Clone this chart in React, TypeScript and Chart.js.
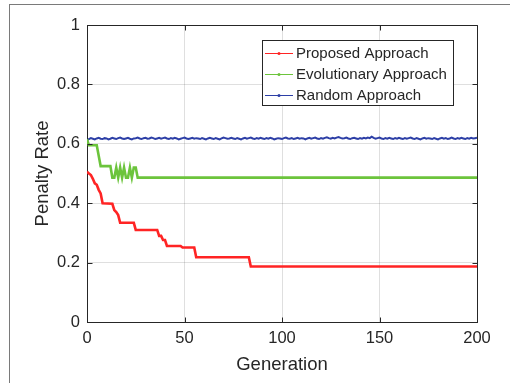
import React, { useEffect, useRef } from "react";
import { Chart, registerables } from "chart.js";

Chart.register(...registerables);

// ---- data ----
const seriesNames = ["Proposed Approach", "Evolutionary Approach", "Random Approach"];
const seriesColors = ["#ff2424", "#6cc43c", "#2d3fa6"];

const xMin = 0;
const xMax = 200;
const xStep = 50;
const yMin = 0;
const yMax = 1;
const yStep = 0.2;

const xTitle = "Generation";
const yTitle = "Penalty Rate";

// Proposed approach: generation / penalty rate at change points
const redGen = [0, 1, 2, 3, 4, 5, 6, 7, 8, 13, 14, 15, 16, 17, 24, 25, 36, 37, 38, 39, 40, 41, 48, 49, 55, 56, 83, 84, 200];
const redRate = [0.506, 0.5, 0.495, 0.482, 0.467, 0.462, 0.445, 0.433, 0.4, 0.398, 0.377, 0.37, 0.36, 0.334, 0.334, 0.31, 0.31, 0.29, 0.29, 0.276, 0.276, 0.256, 0.256, 0.251, 0.251, 0.218, 0.218, 0.187, 0.187];

// Evolutionary approach
const greenGen = [0, 1, 5, 6, 7, 12, 13, 14, 15, 16, 17, 18, 19, 20, 21, 22, 23, 24, 25, 26, 200];
const greenRate = [0.615, 0.595, 0.595, 0.56, 0.525, 0.525, 0.486, 0.486, 0.52, 0.486, 0.52, 0.486, 0.52, 0.486, 0.486, 0.52, 0.486, 0.52, 0.52, 0.486, 0.486];

// Random approach: one value per generation 0..200
const blueRate = [
  0.611, 0.616, 0.619, 0.617, 0.615, 0.618, 0.62, 0.617, 0.616, 0.619, 0.618, 0.615, 0.617, 0.62, 0.618, 0.616, 0.619, 0.621, 0.618, 0.616,
  0.618, 0.62, 0.617, 0.615, 0.618, 0.619, 0.621, 0.618, 0.616, 0.619, 0.62, 0.617, 0.618, 0.621, 0.619, 0.616, 0.618, 0.62, 0.617, 0.619,
  0.621, 0.618, 0.616, 0.619, 0.617, 0.62, 0.618, 0.615, 0.617, 0.619, 0.621, 0.618, 0.616, 0.618, 0.62, 0.617, 0.619, 0.618, 0.616, 0.619,
  0.617, 0.615, 0.618, 0.62, 0.618, 0.616, 0.619, 0.617, 0.615, 0.618, 0.621, 0.619, 0.617, 0.618, 0.62, 0.618, 0.616, 0.619, 0.617, 0.615,
  0.618, 0.62, 0.617, 0.619, 0.621, 0.618, 0.616, 0.619, 0.617, 0.62, 0.618, 0.616, 0.619, 0.617, 0.62, 0.618, 0.615, 0.617, 0.619, 0.618,
  0.616, 0.619, 0.621, 0.618, 0.617, 0.619, 0.616, 0.618, 0.62, 0.617, 0.619, 0.618, 0.615, 0.618, 0.62, 0.617, 0.619, 0.621, 0.618, 0.616,
  0.619, 0.617, 0.62, 0.622, 0.619, 0.617, 0.62, 0.618, 0.621, 0.623, 0.62, 0.618, 0.619, 0.621, 0.618, 0.616, 0.619, 0.62, 0.618, 0.616,
  0.619, 0.617, 0.62, 0.618, 0.621, 0.619, 0.624, 0.62, 0.617, 0.619, 0.621, 0.618, 0.616, 0.619, 0.617, 0.62, 0.618, 0.616, 0.619, 0.617,
  0.62, 0.618, 0.616, 0.619, 0.617, 0.619, 0.621, 0.618, 0.616, 0.619, 0.617, 0.615, 0.618, 0.62, 0.617, 0.619, 0.618, 0.616, 0.619, 0.617,
  0.615, 0.618, 0.62, 0.617, 0.619, 0.616, 0.618, 0.621, 0.618, 0.616, 0.619, 0.617, 0.62, 0.618, 0.616, 0.619, 0.617, 0.62, 0.618, 0.619,
  0.62,
];

const FONT = "'Liberation Sans', Arial, Helvetica, sans-serif";
const AXIS_COLOR = "#262626";

const px = (v: number) => Math.round(v) + 0.5;

const framePlugin = {
  id: "matlabFrame",
  afterDraw(chart: any) {
    const { ctx, chartArea } = chart;
    const { left, right, top, bottom } = chartArea;
    const xs = chart.scales.x;
    const ys = chart.scales.y;
    ctx.save();
    ctx.strokeStyle = AXIS_COLOR;
    ctx.lineWidth = 1;
    // box top & right
    ctx.beginPath();
    ctx.moveTo(px(left), px(top));
    ctx.lineTo(px(right), px(top));
    ctx.lineTo(px(right), px(bottom));
    ctx.stroke();
    // inward ticks
    const tl = 5;
    ctx.beginPath();
    xs.ticks.forEach((t: any) => {
      const x = px(xs.getPixelForValue(t.value));
      ctx.moveTo(x, px(bottom));
      ctx.lineTo(x, px(bottom) - tl);
      ctx.moveTo(x, px(top));
      ctx.lineTo(x, px(top) + tl);
    });
    ys.ticks.forEach((t: any) => {
      const y = px(ys.getPixelForValue(t.value));
      ctx.moveTo(px(left), y);
      ctx.lineTo(px(left) + tl, y);
      ctx.moveTo(px(right), y);
      ctx.lineTo(px(right) - tl, y);
    });
    ctx.stroke();

    // legend box (upper right inside the axes)
    const bx = 262;
    const by = 40;
    const bw = 191;
    const bh = 65;
    ctx.fillStyle = "#ffffff";
    ctx.fillRect(bx, by, bw, bh);
    ctx.strokeStyle = AXIS_COLOR;
    ctx.strokeRect(bx + 0.5, by + 0.5, bw, bh);
    ctx.font = `15px ${FONT}`;
    ctx.textBaseline = "middle";
    ctx.textAlign = "left";
    chart.data.datasets.forEach((ds: any, i: number) => {
      const y = by + 13.5 + i * 21;
      ctx.strokeStyle = ds.borderColor;
      ctx.lineWidth = 1;
      ctx.beginPath();
      ctx.moveTo(bx + 3, y);
      ctx.lineTo(bx + 31, y);
      ctx.stroke();
      ctx.fillStyle = ds.borderColor;
      ctx.beginPath();
      ctx.arc(bx + 17, y, 1.5, 0, Math.PI * 2);
      ctx.fill();
      ctx.fillStyle = AXIS_COLOR;
      ctx.fillText(ds.label, bx + 34, y + 0.5);
    });
    ctx.restore();
  },
};

const fmtTick = (v: any) => String(Number(Number(v).toFixed(2)));

export default function App() {
  const canvasRef = useRef<HTMLCanvasElement | null>(null);

  useEffect(() => {
    if (!canvasRef.current) return;
    const chart = new Chart(canvasRef.current, {
      type: "line",
      data: {
        datasets: [
          {
            label: seriesNames[0],
            data: redGen.map((g, i) => ({ x: g, y: redRate[i] })),
            borderColor: seriesColors[0],
            backgroundColor: seriesColors[0],
            borderWidth: 2.6,
            pointRadius: 0,
          },
          {
            label: seriesNames[1],
            data: greenGen.map((g, i) => ({ x: g, y: greenRate[i] })),
            borderColor: seriesColors[1],
            backgroundColor: seriesColors[1],
            borderWidth: 2.6,
            pointRadius: 0,
          },
          {
            label: seriesNames[2],
            data: blueRate.map((v, i) => ({ x: i, y: v })),
            borderColor: seriesColors[2],
            backgroundColor: seriesColors[2],
            borderWidth: 2,
            pointRadius: 0,
          },
        ],
      },
      options: {
        responsive: false,
        animation: false,
        devicePixelRatio: 1,
        parsing: false as any,
        layout: { padding: { left: 0, top: 25, right: 33, bottom: 0 } },
        plugins: {
          legend: { display: false },
          tooltip: { enabled: false },
        },
        scales: {
          x: {
            type: "linear",
            min: xMin,
            max: xMax,
            ticks: {
              stepSize: xStep,
              color: AXIS_COLOR,
              font: { family: FONT, size: 16.5 },
              padding: 7,
              maxRotation: 0,
              callback: fmtTick,
            },
            grid: { color: "rgba(38,38,38,0.15)", drawTicks: false },
            border: { color: AXIS_COLOR, width: 1 },
            title: {
              display: true,
              text: xTitle,
              color: AXIS_COLOR,
              font: { family: FONT, size: 18.5 },
              padding: { top: 0, bottom: 7 },
            },
            afterFit(scale: any) {
              scale.height = 61;
            },
          },
          y: {
            type: "linear",
            min: yMin,
            max: yMax,
            ticks: {
              stepSize: yStep,
              color: AXIS_COLOR,
              font: { family: FONT, size: 16.5 },
              padding: 7,
              callback: fmtTick,
            },
            grid: { color: "rgba(38,38,38,0.15)", drawTicks: false },
            border: { color: AXIS_COLOR, width: 1 },
            title: {
              display: true,
              text: yTitle,
              color: AXIS_COLOR,
              font: { family: FONT, size: 18.5 },
              padding: { top: 32, bottom: 0 },
            },
            afterFit(scale: any) {
              scale.width = 87;
            },
          },
        },
      },
      plugins: [framePlugin],
    });
    return () => chart.destroy();
  }, []);

  return (
    <div
      style={{
        position: "absolute",
        left: 0,
        top: 0,
        width: 510,
        height: 383,
        overflow: "hidden",
        background: "#ffffff",
      }}
    >
      <div
        style={{
          position: "absolute",
          left: 9,
          top: 4,
          width: 600,
          height: 500,
          border: "1px solid #7a7a7a",
        }}
      />
      <canvas
        ref={canvasRef}
        width={510}
        height={383}
        style={{ position: "absolute", left: 0, top: 0, width: 510, height: 383 }}
      />
    </div>
  );
}
